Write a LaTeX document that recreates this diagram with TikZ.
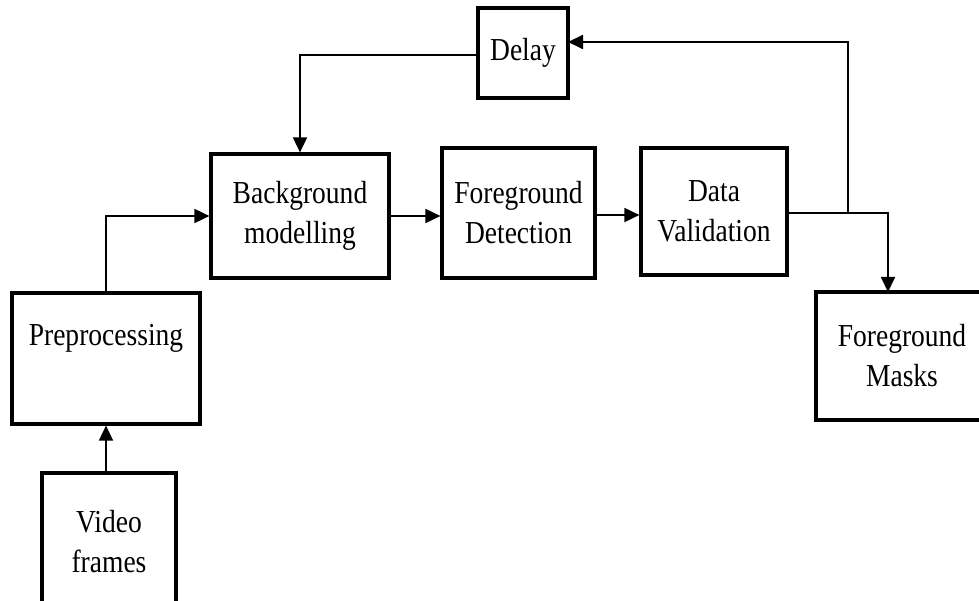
\documentclass[tikz,border=0pt]{standalone}
\usepackage{fontspec}
\setmainfont{Liberation Serif}[FakeStretch=0.86]
\usetikzlibrary{arrows.meta}
\begin{document}
\begin{tikzpicture}[x=1pt,y=-1pt,
  box/.style={draw,line width=3.2pt,inner sep=0pt,align=center,
    font=\fontsize{32}{40}\selectfont},
  txt/.style={inner sep=0pt,align=center,font=\fontsize{32}{40}\selectfont},
  conn/.style={line width=1.8pt,-{Triangle[length=15pt,width=14pt]}}]
\useasboundingbox (0,0) rectangle (979,601);
\clip (0,0) rectangle (979,601);
\fill[white] (0,0) rectangle (979,601);
\node[box,minimum width=90pt,minimum height=90pt] (dl) at (523,53) {Delay};
\node[box,minimum width=178pt,minimum height=124pt] (bg) at (300,216) {Background\\modelling};
\node[box,minimum width=153pt,minimum height=130pt] (fd) at (518.5,213) {Foreground\\Detection};
\node[box,minimum width=146pt,minimum height=127pt] (dv) at (714,211.5) {Data\\Validation};
\node[box,minimum width=188pt,minimum height=131pt] (pre) at (106,358.5) {};
\node[txt] (pretext) at (106,338) {Preprocessing};
\node[box,minimum width=172pt,minimum height=128pt] (fm) at (902,356) {Foreground\\Masks};
\node[box,minimum width=134pt,minimum height=137pt] (vid) at (109,541.5) {Video\\frames};
\coordinate (j) at (848,213);
\coordinate (fmin) at (888,292);
\coordinate (dlin) at (568,42);
\coordinate (dlout) at (478,55);
\draw[conn] (vid.north -| pre.south) -- (pre.south);
\draw[conn] (pre.north) |- (bg.west);
\draw[conn] (bg.east) -- (bg.east -| fd.west);
\draw[conn] (fd.east |- 0,215) -- (dv.west |- 0,215);
\draw[conn] (dv.east |- j) -| (fmin);
\draw[conn] (j) |- (dlin);
\draw[conn] (dlout) -| (bg.north);
\end{tikzpicture}
\end{document}
